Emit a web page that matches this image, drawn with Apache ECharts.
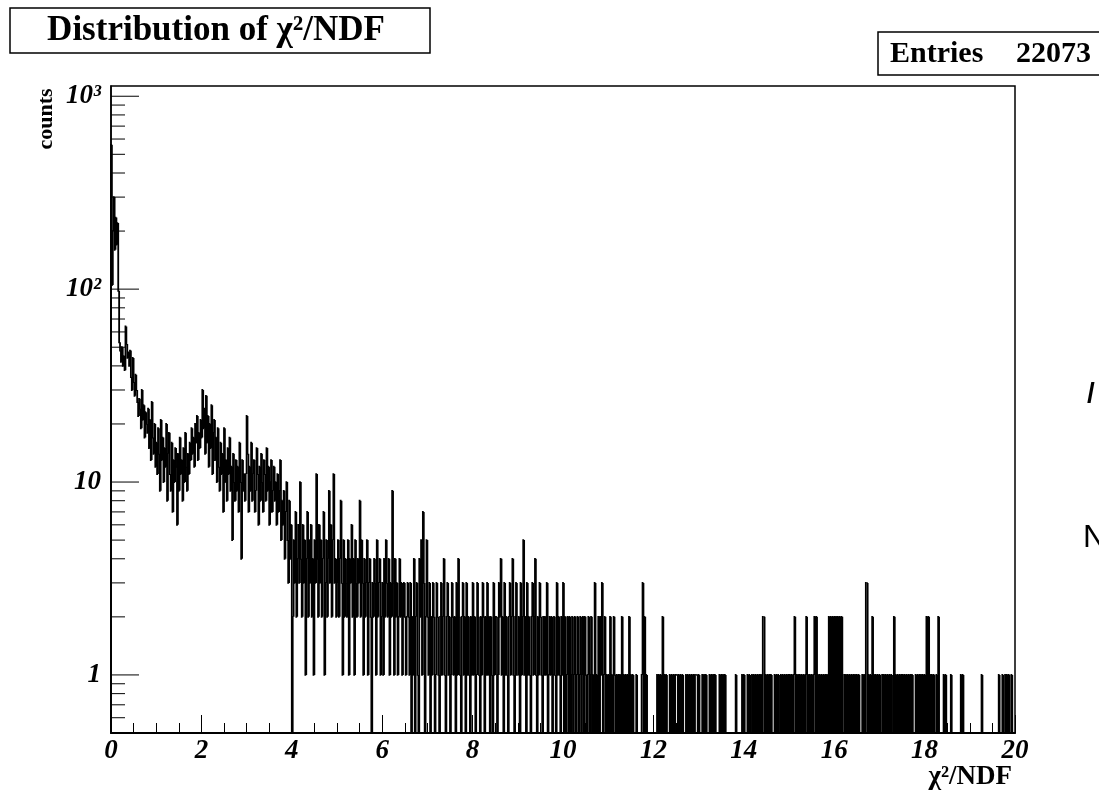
<!DOCTYPE html>
<html>
<head>
<meta charset="utf-8">
<script src="https://cdn.jsdelivr.net/npm/echarts@6/dist/echarts.min.js"></script>
<style>
  html, body { margin: 0; padding: 0; background: #fff; }
  #chart { width: 1099px; height: 800px; }
</style>
</head>
<body>
<div id="chart"></div>
<script>
// histogram of chi2/NDF, 1000 bins from 0 to 20 (one row = one unit of x)
var xMin = 0;
var xMax = 20;
var binWidth = 0.02;
var counts = [
  560,105,200,300,160,235,170,220,98,53, 48,42,50,40,45,38,64,52,44,47, 40,48,35,30,44,33,28,36,30,26, 22,27,24,19,30,21,25,17,23,20, 18,24,15,21,13,26,17,14,20,12,
  16,11,19,14,9,21,13,17,10,15, 12,20,8,14,18,11,9,16,7,13, 10,15,12,6,14,9,17,11,13,8, 15,10,18,12,9,14,11,16,13,19, 14,17,12,20,16,22,13,18,15,21,
  17,30,19,24,14,28,16,22,12,20, 15,25,11,18,21,13,17,10,19,12, 9,16,11,14,7,19,10,13,8,15, 11,17,9,12,5,14,10,8,13,9, 12,7,16,10,4,13,9,11,8,11,
  22,14,7,12,9,16,8,11,13,7, 9,15,11,6,12,8,14,10,7,13, 11,8,15,9,12,6,10,13,7,9, 12,8,10,6,11,7,9,13,5,8, 6,9,4,7,10,5,3,8,4,6,
  0,2,5,3,7,2,4,6,3,10, 4,2,6,3,5,1,4,7,2,5, 3,6,2,4,1,5,3,11,4,2, 6,3,5,2,4,7,1,3,5,2, 4,9,3,6,2,5,11,3,4,2,
  3,5,2,4,8,3,1,5,2,4, 3,2,5,1,4,3,6,2,4,1, 5,3,2,4,3,8,2,5,3,1, 4,2,3,5,1,3,4,2,0,3, 2,4,3,1,5,2,3,4,1,2,
  3,1,4,2,5,3,2,4,1,3, 2,9,3,1,4,2,3,1,2,4, 2,3,1,2,3,2,1,2,3,2, 1,3,0,2,1,4,0,2,3,1, 0,4,2,5,1,7,3,0,2,5,
  2,1,3,0,2,1,3,2,0,1, 3,2,1,0,2,3,1,2,4,1, 0,2,3,1,2,0,1,3,2,1, 2,0,3,1,4,2,1,0,2,3, 1,2,0,3,1,2,1,0,2,1,
  3,1,2,0,1,3,2,1,0,2, 1,3,2,0,2,1,3,1,2,0, 2,1,0,3,1,2,2,0,1,3, 2,4,1,2,0,3,1,2,1,0, 2,3,1,2,4,1,0,2,3,1,
  1,2,0,3,1,2,5,1,2,0, 3,1,2,1,0,2,3,1,2,4, 1,0,2,1,3,2,1,0,2,1, 2,1,3,0,1,2,1,2,0,1, 2,1,0,3,1,2,1,0,2,1,
  3,0,2,0,1,2,0,2,0,1, 2,0,1,2,0,1,2,0,1,2, 0,1,2,0,2,1,0,1,2,0, 1,2,0,1,0,3,0,1,0,2, 0,2,1,3,0,1,2,0,1,0,
  1,0,2,0,1,0,2,1,0,1, 0,1,0,1,0,2,0,1,0,1, 0,1,0,2,0,1,0,1,0,0, 0,1,0,0,0,0,0,1,3,0, 2,0,1,0,0,0,0,0,0,0,
  0,0,0,0,1,0,1,0,1,0, 2,0,1,0,1,0,0,0,1,0, 1,0,1,0,1,1,1,0,1,0, 1,0,1,0,0,0,1,0,1,0, 1,0,1,0,1,0,1,1,1,0,
  1,0,0,0,1,0,1,0,1,0, 0,0,1,0,1,0,1,0,1,0, 0,0,0,1,0,1,0,1,0,1, 0,0,0,0,0,0,0,0,0,0, 0,1,0,0,0,0,0,0,1,0,
  1,0,0,0,1,0,1,0,0,1, 0,1,0,1,0,1,0,1,0,1, 0,2,2,0,1,0,1,0,1,0, 1,0,0,0,1,0,1,0,1,0, 0,1,0,1,0,1,0,1,0,1,
  0,1,0,1,0,1,2,0,1,0, 1,0,1,0,1,0,1,0,1,2, 0,1,0,1,0,1,0,1,2,0, 2,0,1,0,1,0,1,0,1,0, 1,0,1,0,2,0,2,0,2,0,
  2,0,2,0,2,0,2,0,2,0, 0,1,0,1,0,1,0,1,0,1, 0,1,0,1,0,1,0,1,0,0, 0,1,0,1,0,3,3,0,1,0, 1,0,2,0,1,0,1,0,1,0,
  1,0,0,1,0,1,0,1,0,1, 0,1,0,1,0,0,2,0,1,0, 1,0,1,0,1,0,1,0,1,0, 1,0,1,0,1,0,1,0,0,0, 1,0,1,0,1,0,1,0,1,0,
  1,0,2,0,2,0,1,0,1,0, 1,0,0,1,0,2,0,0,0,0, 0,1,0,1,0,0,0,0,0,1, 0,0,0,0,0,0,0,0,0,0, 1,0,1,0,0,0,0,0,0,0,
  0,0,0,0,0,0,0,0,0,0, 0,0,0,1,0,0,0,0,0,0, 0,0,0,0,0,0,0,0,0,0, 0,0,1,0,0,0,1,0,0,1, 0,1,0,1,0,0,1,0,0,0
];

// y axis (log)
var yMin = 0.5;
var yMax = 1130;
var yLabelValues = [1, 10, 100, 1000];
var yLabelTexts = ['1', '10', '10\u00b2', '10\u00b3'];
var yMajorTicks = [1, 10, 100, 1000];
var yMinorTicks = [0.6, 0.7, 0.8, 0.9, 2, 3, 4, 5, 6, 7, 8, 9,
  20, 30, 40, 50, 60, 70, 80, 90, 200, 300, 400, 500, 600, 700, 800, 900];

var serif = '"Liberation Serif", "DejaVu Serif", serif';

var dom = document.getElementById('chart');
var myChart = echarts.init(dom);

// one item per bin: [left edge, right edge, count, previous count]
// empty bins go down to the frame bottom, like ROOT does on a log scale
function floorCount(c) {
  return c > 0 ? c : yMin;
}
var binData = counts.map(function (c, i) {
  var prev = i > 0 ? counts[i - 1] : 0;
  return [xMin + i * binWidth, xMin + (i + 1) * binWidth, floorCount(c), floorCount(prev)];
});

// each bin is its own small path, so sub-pixel steps are not dropped
// (a line series skips segments shorter than 2px)
function renderBin(params, api) {
  var x0 = api.value(0), x1 = api.value(1), c = api.value(2), prev = api.value(3);
  var a = api.coord([x0, prev]);
  var b = api.coord([x0, c]);
  var d = api.coord([x1, c]);
  return {
    type: 'polyline',
    shape: { points: [a, b, d] },
    style: { stroke: '#000', lineWidth: 1.8, fill: null }
  };
}

function tickRenderer(len) {
  return function (params, api) {
    var p = api.coord([xMin, api.value(1)]);
    return {
      type: 'line',
      shape: { x1: p[0], y1: p[1], x2: p[0] + len, y2: p[1] },
      style: { stroke: '#000', lineWidth: 1 }
    };
  };
}

var option = {
  animation: false,
  backgroundColor: '#fff',
  grid: {
    left: 111,
    right: 84,
    top: 86,
    bottom: 67,
    show: true,
    borderColor: '#000',
    borderWidth: 1.5,
    backgroundColor: 'transparent'
  },
  xAxis: {
    type: 'value',
    min: xMin,
    max: xMax,
    interval: 2,
    axisLine: { lineStyle: { color: '#000', width: 2 } },
    axisTick: { inside: true, length: 18, lineStyle: { color: '#000', width: 1 } },
    minorTick: { show: true, splitNumber: 4, length: 10, lineStyle: { color: '#000', width: 1 } },
    splitLine: { show: false },
    axisLabel: {
      color: '#000',
      fontFamily: serif,
      fontWeight: 'bold',
      fontStyle: 'italic',
      fontSize: 27,
      margin: 5
    }
  },
  yAxis: {
    type: 'log',
    logBase: 10,
    min: yMin,
    max: yMax,
    axisLine: { lineStyle: { color: '#000', width: 1.5 } },
    axisTick: { show: false },
    splitLine: { show: false },
    axisLabel: {
      color: '#000',
      fontFamily: serif,
      fontWeight: 'bold',
      fontStyle: 'italic',
      fontSize: 27,
      margin: 10,
      formatter: function (v) {
        for (var i = 0; i < yLabelValues.length; i++) {
          if (Math.abs(v - yLabelValues[i]) < 1e-6 * yLabelValues[i]) return yLabelTexts[i];
        }
        return '';
      }
    }
  },
  series: [{
    type: 'custom',
    data: binData,
    encode: { x: [0, 1], y: [2, 3] },
    renderItem: renderBin,
    silent: true
  }, {
    type: 'custom',
    data: yMajorTicks.map(function (v) { return [xMin, v]; }),
    renderItem: tickRenderer(28),
    silent: true
  }, {
    type: 'custom',
    data: yMinorTicks.map(function (v) { return [xMin, v]; }),
    renderItem: tickRenderer(14),
    silent: true
  }],
  graphic: [
    // title box
    { type: 'rect', shape: { x: 10, y: 8, width: 420, height: 45 },
      style: { fill: '#fff', stroke: '#000', lineWidth: 1.5 } },
    { type: 'text', x: 216, y: 31,
      style: { text: 'Distribution of \u03c7\u00b2/NDF', fill: '#000', font: 'bold 35px ' + serif,
        align: 'center', verticalAlign: 'middle' } },
    // stats box
    { type: 'rect', shape: { x: 878, y: 32, width: 240, height: 43 },
      style: { fill: '#fff', stroke: '#000', lineWidth: 1.5 } },
    { type: 'text', x: 890, y: 54,
      style: { text: 'Entries', fill: '#000', font: 'bold 30px ' + serif, align: 'left', verticalAlign: 'middle' } },
    { type: 'text', x: 1091, y: 54,
      style: { text: '22073', fill: '#000', font: 'bold 30px ' + serif, align: 'right', verticalAlign: 'middle' } },
    // axis titles
    { type: 'text', x: 46, y: 119, rotation: Math.PI / 2,
      style: { text: 'counts', fill: '#000', font: 'bold 22px ' + serif, align: 'center', verticalAlign: 'middle' } },
    { type: 'text', x: 1012, y: 777,
      style: { text: '\u03c7\u00b2/NDF', fill: '#000', font: 'bold 27px ' + serif, align: 'right', verticalAlign: 'middle' } },
    // cut-off text at the right edge
    { type: 'text', x: 1087, y: 394,
      style: { text: '/', fill: '#000', font: 'bold 28px "Liberation Sans", sans-serif', align: 'left', verticalAlign: 'middle' } },
    { type: 'text', x: 1083, y: 538,
      style: { text: 'N', fill: '#000', font: '32px "Liberation Sans", sans-serif', align: 'left', verticalAlign: 'middle' } }
  ]
};

myChart.setOption(option);
</script>
</body>
</html>
